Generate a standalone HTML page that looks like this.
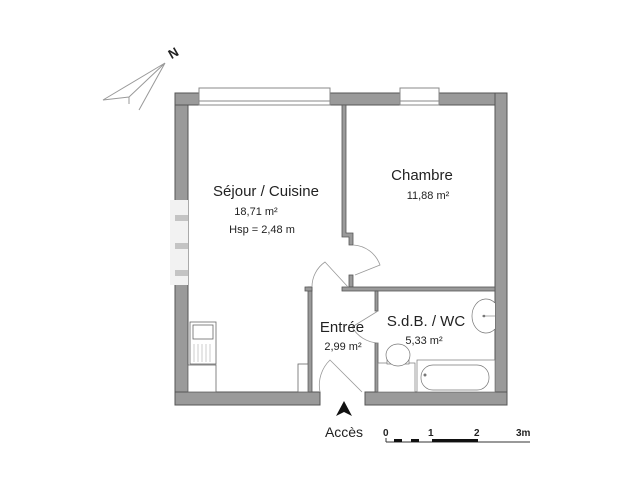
<!DOCTYPE html>
<html><head><meta charset="utf-8"><style>
html,body{margin:0;padding:0;background:#fff;width:640px;height:480px;overflow:hidden}
text{font-family:"Liberation Sans",sans-serif;fill:#222}
</style></head><body>
<svg width="640" height="480" viewBox="0 0 640 480" xmlns="http://www.w3.org/2000/svg">
<g stroke="#999" stroke-width="1" fill="none">
<polyline points="165,63 103,100 129,97 165,63 139,110"/>
<line x1="129" y1="97" x2="129" y2="104"/>
</g>
<text x="168" y="58" font-size="13" font-weight="bold" transform="rotate(-30 172 52)">N</text>
<g fill="#9a9a9a" stroke="#555" stroke-width="1">
<rect x="175" y="93" width="13" height="312"/>
<rect x="175" y="93" width="24" height="12"/>
<rect x="330" y="93" width="70" height="12"/>
<rect x="439" y="93" width="68" height="12"/>
<rect x="495" y="93" width="12" height="312"/>
<rect x="175" y="392" width="145" height="13"/>
<rect x="365" y="392" width="142" height="13"/>
</g>
<g fill="#fff" stroke="#888" stroke-width="1">
<rect x="199" y="88" width="131" height="17"/>
<line x1="199" y1="101" x2="330" y2="101"/>
<rect x="400" y="88" width="39" height="17"/>
<line x1="400" y1="101" x2="439" y2="101"/>
</g>
<rect x="170" y="200" width="18" height="85" fill="#f2f2f2"/>
<g fill="#c4c4c4"><rect x="175" y="215" width="13" height="6"/><rect x="175" y="243" width="13" height="6"/><rect x="175" y="270" width="13" height="6"/></g>
<g fill="#9a9a9a" stroke="#555" stroke-width="0.8">
<polygon points="342,105 346,105 346,233 353,233 353,245 349,245 349,237 342,237"/>
<rect x="349" y="275" width="4" height="12"/>
<rect x="342" y="287" width="153" height="4"/>
<rect x="308" y="287" width="4" height="105"/>
<rect x="305" y="287" width="7" height="4"/>
<rect x="375" y="291" width="3" height="20"/>
<rect x="375" y="343" width="3" height="49"/>
</g>
<g stroke="#999" stroke-width="0.8" fill="none">
<path d="M353,245 A30,30 0 0 1 380,265 L355,275"/>
<path d="M312,287 A30,30 0 0 1 325,262 L348,287"/>
<path d="M378,311 L352,327 A32,32 0 0 0 378,343"/>
<path d="M320,392 A35,35 0 0 1 330,360 L362,392"/>
</g>
<g stroke="#666" stroke-width="0.8" fill="#fff">
<rect x="190" y="322" width="26" height="42"/>
<rect x="193" y="325" width="20" height="14"/>
<rect x="188" y="365" width="28" height="27"/>
<rect x="298" y="364" width="10" height="28"/>
</g>
<g stroke="#aaa" stroke-width="0.6"><line x1="194" y1="344" x2="194" y2="362"/><line x1="198" y1="344" x2="198" y2="362"/><line x1="202" y1="344" x2="202" y2="362"/><line x1="206" y1="344" x2="206" y2="362"/><line x1="210" y1="344" x2="210" y2="362"/></g>
<g stroke="#777" stroke-width="0.7" fill="#fff">
<rect x="378" y="363" width="37" height="29"/>
<rect x="387" y="357" width="22" height="7"/>
<ellipse cx="398" cy="355" rx="12" ry="11"/>
<rect x="417" y="360" width="78" height="32"/>
<rect x="421" y="365" width="68" height="25" rx="12"/>
<path d="M495,303 A14,17 0 1 0 495,329"/>
</g>
<line x1="482" y1="316" x2="495" y2="316" stroke="#888" stroke-width="0.7"/>
<circle cx="484" cy="316" r="1.3" fill="#777"/>
<circle cx="425" cy="375" r="1.5" fill="#777"/>
<text x="266" y="196" font-size="15" text-anchor="middle">Séjour / Cuisine</text>
<text x="256" y="215" font-size="11" text-anchor="middle">18,71 m²</text>
<text x="262" y="233" font-size="11" text-anchor="middle">Hsp = 2,48 m</text>
<text x="422" y="180" font-size="15" text-anchor="middle">Chambre</text>
<text x="428" y="199" font-size="11" text-anchor="middle">11,88 m²</text>
<text x="342" y="332" font-size="15" text-anchor="middle">Entrée</text>
<text x="343" y="350" font-size="11" text-anchor="middle">2,99 m²</text>
<text x="426" y="326" font-size="15" text-anchor="middle">S.d.B. / WC</text>
<text x="424" y="344" font-size="11" text-anchor="middle">5,33 m²</text>
<polygon points="344,401 336,416 344,412 352,416" fill="#111"/>
<text x="344" y="437" font-size="14" text-anchor="middle">Accès</text>
<g font-size="10" font-weight="bold"><text x="383" y="436">0</text><text x="428" y="436">1</text><text x="474" y="436">2</text><text x="516" y="436">3m</text></g>
<g stroke="#333" stroke-width="1" fill="none"><line x1="386" y1="438" x2="386" y2="442"/><line x1="386" y1="442" x2="530" y2="442"/></g>
<rect x="394" y="439" width="8" height="3" fill="#111"/><rect x="411" y="439" width="8" height="3" fill="#111"/><rect x="432" y="439" width="46" height="3" fill="#111"/>
</svg>
</body></html>
